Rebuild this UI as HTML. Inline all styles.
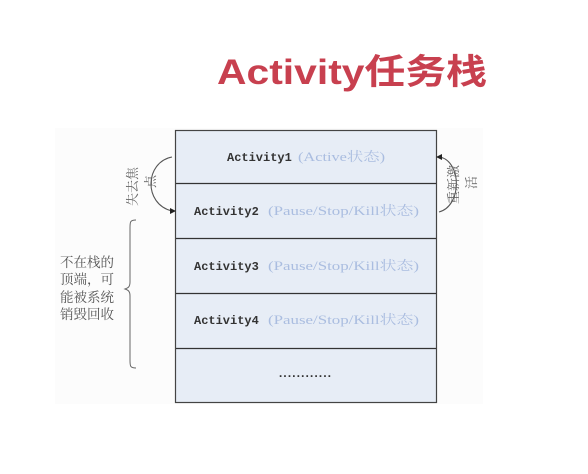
<!DOCTYPE html>
<html><head><meta charset="utf-8"><style>
html,body{margin:0;padding:0;background:#fff;}
svg{display:block;}
.a{font-family:"Liberation Mono",monospace;font-weight:bold;font-size:12px;fill:#333;}
.s{font-family:"Liberation Serif","Noto Serif CJK SC",serif;font-size:13px;fill:#aabde0;}
.c{font-family:"Liberation Serif","Noto Serif CJK SC",serif;font-size:13.5px;fill:#555;}
.r{font-family:"Liberation Serif","Noto Serif CJK SC",serif;font-size:13px;fill:#666;}
</style></head><body>
<svg width="588" height="474" viewBox="0 0 588 474" xmlns="http://www.w3.org/2000/svg">
<rect x="55" y="128" width="428" height="276" fill="#fcfcfc"/>
<text x="217" y="84" font-family="Liberation Sans,'Noto Sans CJK SC',sans-serif" font-weight="bold" font-size="35" fill="#c8404f" textLength="270" lengthAdjust="spacingAndGlyphs">Activity任务栈</text>
<rect x="175.5" y="130.5" width="261" height="272" fill="#e7edf6" stroke="#444" stroke-width="1.2"/>
<g stroke="#333" stroke-width="1.3">
<line x1="176" y1="183.5" x2="436" y2="183.5"/>
<line x1="176" y1="238.5" x2="436" y2="238.5"/>
<line x1="176" y1="293.5" x2="436" y2="293.5"/>
<line x1="176" y1="348.5" x2="436" y2="348.5"/>
</g>
<text class="a" x="227" y="161">Activity1</text><text class="s" x="298" y="161" textLength="87" lengthAdjust="spacingAndGlyphs">(Active状态)</text>
<text class="a" x="194" y="215">Activity2</text><text class="s" x="268" y="215" textLength="151" lengthAdjust="spacingAndGlyphs">(Pause/Stop/Kill状态)</text>
<text class="a" x="194" y="270">Activity3</text><text class="s" x="268" y="270" textLength="151" lengthAdjust="spacingAndGlyphs">(Pause/Stop/Kill状态)</text>
<text class="a" x="194" y="324">Activity4</text><text class="s" x="268" y="324" textLength="151" lengthAdjust="spacingAndGlyphs">(Pause/Stop/Kill状态)</text>
<text x="277" y="377" font-family="Liberation Mono,monospace" font-weight="bold" font-size="12" fill="#333" textLength="56" lengthAdjust="spacing">............</text>
<path d="M172 157 C145 162,143 204,172 211" fill="none" stroke="#555" stroke-width="1.1"/>
<polygon points="176,211 170,208 170,214" fill="#222"/>
<path d="M440 157 C462 162,462 206,439 212" fill="none" stroke="#555" stroke-width="1.1"/>
<polygon points="436,157 442,154 442,160" fill="#222"/>
<text class="r" transform="translate(137,206) rotate(-90)">失去焦</text>
<text class="r" transform="translate(155,188) rotate(-90)">点</text>
<text class="r" transform="translate(458,204) rotate(-90)">重新激</text>
<text class="r" transform="translate(476,189) rotate(-90)">活</text>
<path d="M136 220 C130 220,130 222,130 228 L130 282 C130 287,128 288,125 289 C128 290,130 291,130 296 L130 360 C130 366,130 368,136 368" fill="none" stroke="#666" stroke-width="1"/>
<text class="c" x="60" y="267">不在栈的</text>
<text class="c" x="60" y="284">顶端，可</text>
<text class="c" x="60" y="302">能被系统</text>
<text class="c" x="60" y="319">销毁回收</text>
</svg>
</body></html>
